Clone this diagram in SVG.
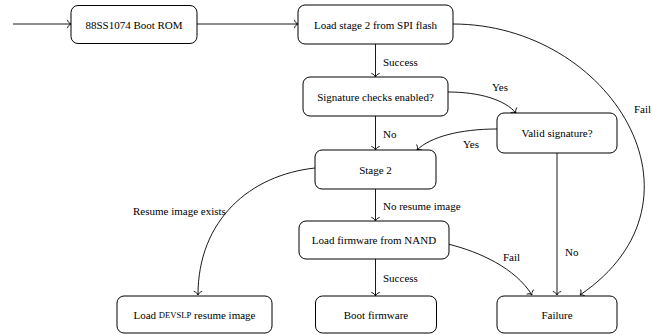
<svg xmlns="http://www.w3.org/2000/svg" width="652" height="335" viewBox="0 0 652 335">
<style>
.box{fill:#fff;stroke:#000;stroke-width:1}
.t{font-family:"Liberation Serif","Times New Roman",serif;font-size:11px;fill:#000;text-anchor:middle;dominant-baseline:central}
.l{font-family:"Liberation Serif","Times New Roman",serif;font-size:11px;fill:#000;dominant-baseline:central}
.c{fill:none;stroke:#000;stroke-width:0.9;marker-end:url(#ar)}
</style>
<defs>
<marker id="ar" markerUnits="userSpaceOnUse" markerWidth="10" markerHeight="10" refX="0" refY="0" viewBox="-5 -5 10 10" orient="auto" overflow="visible">
<path d="M-3.5,-3.8 C-2.8,-1.6 -1.2,-0.3 0,0 C-1.2,0.3 -2.8,1.6 -3.5,3.8" fill="none" stroke="#000" stroke-width="0.9" stroke-linecap="round"/>
</marker>
</defs>
<g id="connectors">
<path class="c" d="M13,24 L71,24"/>
<path class="c" d="M197,24 L298,24"/>
<path class="c" d="M375.5,44 L375.5,77"/>
<text class="l" x="383" y="62">Success</text>
<path class="c" d="M448,92 C480,92 505,100 516,113"/>
<text class="l" x="492" y="87">Yes</text>
<path class="c" d="M375.5,116 L375.5,150"/>
<text class="l" x="383" y="134">No</text>
<path class="c" d="M497,129 C460,129 430,137 417,150"/>
<text class="l" x="463" y="144">Yes</text>
<path class="c" d="M453,24 C610,24 720,200 580,295"/>
<text class="l" x="634" y="109">Fail</text>
<path class="c" d="M315,168 C250,175 198,220 198,295"/>
<text class="l" x="133" y="211">Resume image exists</text>
<path class="c" d="M375.5,189 L375.5,221"/>
<text class="l" x="383" y="206">No resume image</text>
<path class="c" d="M375.5,259 L375.5,296"/>
<text class="l" x="383" y="278">Success</text>
<path class="c" d="M448,244 C480,252 515,268 532,295"/>
<text class="l" x="503" y="257">Fail</text>
<path class="c" d="M557,153 L557,295"/>
<text class="l" x="565" y="252">No</text>
</g>
<g id="boot-rom"><rect class="box" x="71" y="5.5" width="126" height="38" rx="7"/><text class="t" x="134" y="24.5">88SS1074 Boot ROM</text></g>
<g id="load-stage2"><rect class="box" x="298" y="5" width="155" height="39" rx="7"/><text class="t" x="375.5" y="24.5">Load stage 2 from SPI flash</text></g>
<g id="sig-checks"><rect class="box" x="303" y="77" width="145" height="39" rx="7"/><text class="t" x="375.5" y="96.5">Signature checks enabled?</text></g>
<g id="valid-sig"><rect class="box" x="497" y="113" width="120" height="40" rx="7"/><text class="t" x="557" y="133">Valid signature?</text></g>
<g id="stage2"><rect class="box" x="315" y="150" width="121" height="39" rx="7"/><text class="t" x="375.5" y="169.5">Stage 2</text></g>
<g id="load-nand"><rect class="box" x="299" y="221" width="150" height="38" rx="7"/><text class="t" x="374" y="240">Load firmware from NAND</text></g>
<g id="devslp"><rect class="box" x="117" y="296" width="155" height="37" rx="7"/><text class="t" x="194.5" y="314.5">Load <tspan font-size="8.6">DEVSLP</tspan> resume image</text></g>
<g id="boot-fw"><rect class="box" x="315.5" y="296" width="121" height="37" rx="7"/><text class="t" x="376" y="314.5">Boot firmware</text></g>
<g id="failure"><rect class="box" x="497" y="296" width="120" height="37" rx="7"/><text class="t" x="557" y="314.5">Failure</text></g>
</svg>
